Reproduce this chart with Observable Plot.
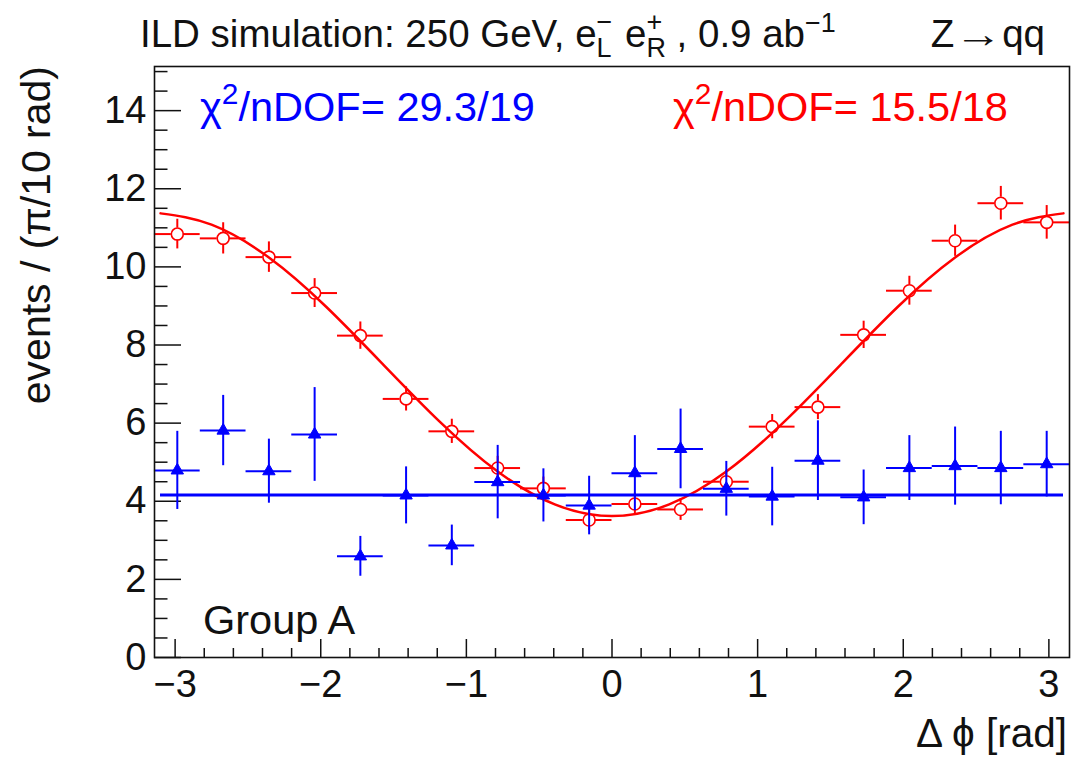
<!DOCTYPE html>
<html>
<head>
<meta charset="utf-8">
<script src="https://cdn.jsdelivr.net/npm/d3@7"></script>
<script src="https://cdn.jsdelivr.net/npm/@observablehq/plot@0.6"></script>
<style>
  body { margin: 0; background: #fff; }
  svg text { white-space: pre; }
</style>
</head>
<body>
<div id="chart"></div>
<script>
// ---------------- data ----------------
const binCenters = [-2.985, -2.670, -2.356, -2.042, -1.728, -1.414, -1.100, -0.785, -0.471, -0.157,
                     0.157,  0.471,  0.785,  1.100,  1.414,  1.728,  2.042,  2.356,  2.670,  2.985];
const binHalfWidth = 0.157;

// red open circles
const redValues = [10.84, 10.73, 10.25, 9.33, 8.24, 6.62, 5.79, 4.85, 4.33, 3.52,
                   3.93, 3.79, 4.50, 5.91, 6.41, 8.26, 9.39, 10.67, 11.63, 11.14];
const redErrors = [0.38, 0.40, 0.39, 0.37, 0.35, 0.31, 0.31, 0.30, 0.29, 0.27,
                   0.28, 0.28, 0.29, 0.31, 0.32, 0.35, 0.37, 0.40, 0.43, 0.43];

// blue filled triangles
const blueValues = [4.79, 5.81, 4.77, 5.71, 2.59, 4.15, 2.87, 4.49, 4.15, 3.89,
                    4.72, 5.34, 4.32, 4.12, 5.04, 4.10, 4.85, 4.90, 4.85, 4.95];
const blueErrors = [1.00, 0.90, 0.82, 1.20, 0.51, 0.73, 0.52, 0.94, 0.68, 0.75,
                    0.96, 1.02, 0.70, 0.75, 1.02, 0.70, 0.83, 1.00, 0.94, 0.84];

// fitted curves
const redFitX = [-3.10, -2.75, -2.356, -1.963, -1.571, -1.178, -0.785, -0.393, 0,
                  0.393, 0.785, 1.178, 1.571, 1.963, 2.356, 2.75, 3.10];
const redFitY = [11.37, 11.08, 10.24, 8.98, 7.50, 6.02, 4.76, 3.92, 3.62,
                 3.92, 4.76, 6.02, 7.50, 8.98, 10.24, 11.08, 11.37];
const blueFitLevel = [4.16];

// axes
const xMajorTicks = [-3, -2, -1, 0, 1, 2, 3];
const xMinorTicks = [-2.8, -2.6, -2.4, -2.2, -1.8, -1.6, -1.4, -1.2, -0.8, -0.6, -0.4, -0.2,
                     0.2, 0.4, 0.6, 0.8, 1.2, 1.4, 1.6, 1.8, 2.2, 2.4, 2.6, 2.8];
const yMajorTicks = [0, 2, 4, 6, 8, 10, 12, 14];
const yMinorTicks = [0.5, 1, 1.5, 2.5, 3, 3.5, 4.5, 5, 5.5, 6.5, 7, 7.5, 8.5, 9, 9.5,
                     10.5, 11, 11.5, 12.5, 13, 13.5, 14.5, 15];

const xLabel = "Δ ϕ [rad]";
const yLabel = "events / (π/10 rad)";
const blueChi2 = ["χ", "2", "/nDOF= 29.3/19"];
const redChi2 = ["χ", "2", "/nDOF= 15.5/18"];
const groupLabel = "Group A";

// ---------------- layout / style ----------------
const FONT = "'Liberation Sans', Arial, Helvetica, sans-serif";
const RED = "#ff0000", BLUE = "#0000ff", INK = "#111";
const W = 1071, H = 758;
const mL = 154, mR = 2, mT = 66, mB = 101;
const frameW = W - mL - mR, frameH = H - mT - mB;
const R = 6; // open circle radius

const idx = d3.range(binCenters.length);
const redFit = redFitX.map((x, i) => ({x, y: redFitY[i]}));

const plot = Plot.plot({
  width: W, height: H,
  marginLeft: mL, marginRight: mR, marginTop: mT, marginBottom: mB,
  style: {fontFamily: FONT, fontSize: "38px", background: "#fff", color: INK},
  x: {domain: [-Math.PI, Math.PI]},
  y: {domain: [0, 15.13]},
  marks: [
    // tick marks (inside the frame)
    Plot.tickY(yMajorTicks, {y: d => d, insetRight: frameW - 27, stroke: INK, strokeWidth: 1.5}),
    Plot.tickY(yMinorTicks, {y: d => d, insetRight: frameW - 13.5, stroke: INK, strokeWidth: 1.5}),
    Plot.tickX(xMajorTicks, {x: d => d, insetTop: frameH - 18, stroke: INK, strokeWidth: 1.5}),
    Plot.tickX(xMinorTicks, {x: d => d, insetTop: frameH - 9, stroke: INK, strokeWidth: 1.5}),
    Plot.axisX({ticks: xMajorTicks, tickFormat: d3.format("d"), tickSize: 0, tickPadding: 13, fontSize: 38, label: null}),
    Plot.axisY({ticks: yMajorTicks, tickFormat: d3.format("d"), tickSize: 0, tickPadding: 8, fontSize: 38, label: null}),

    // red fit
    Plot.line(redFit, {x: "x", y: "y", curve: "natural", stroke: RED, strokeWidth: 2.5}),
    // red error bars with a gap at the marker
    Plot.ruleX(idx, {x: i => binCenters[i], y1: i => redValues[i] + redErrors[i], y2: i => redValues[i], insetBottom: R, stroke: RED, strokeWidth: 2}),
    Plot.ruleX(idx, {x: i => binCenters[i], y1: i => redValues[i], y2: i => redValues[i] - redErrors[i], insetTop: R, stroke: RED, strokeWidth: 2}),
    Plot.ruleY(idx, {y: i => redValues[i], x1: i => binCenters[i] - binHalfWidth, x2: i => binCenters[i], insetRight: R, stroke: RED, strokeWidth: 2}),
    Plot.ruleY(idx, {y: i => redValues[i], x1: i => binCenters[i], x2: i => binCenters[i] + binHalfWidth, insetLeft: R, stroke: RED, strokeWidth: 2}),
    Plot.dot(idx, {x: i => binCenters[i], y: i => redValues[i], r: R, stroke: RED, strokeWidth: 1.6, fill: "none"}),

    // blue error bars + triangles
    Plot.ruleX(idx, {x: i => binCenters[i], y1: i => blueValues[i] - blueErrors[i], y2: i => blueValues[i] + blueErrors[i], stroke: BLUE, strokeWidth: 2}),
    Plot.ruleY(idx, {y: i => blueValues[i], x1: i => binCenters[i] - binHalfWidth, x2: i => binCenters[i] + binHalfWidth, stroke: BLUE, strokeWidth: 2}),
    Plot.dot(idx, {x: i => binCenters[i], y: i => blueValues[i], symbol: "triangle", r: 4.6, fill: BLUE, stroke: BLUE, strokeWidth: 1}),

    // blue fit (constant)
    Plot.ruleY(blueFitLevel, {y: d => d, insetLeft: 6, insetRight: 6, stroke: BLUE, strokeWidth: 3.2}),

    Plot.frame({stroke: INK, strokeWidth: 1.6})
  ]
});

document.getElementById("chart").append(plot);

// ---------------- text annotations ----------------
const svg = d3.select(plot);

function rich(x0, yBase, parts, size, fill, anchor = "start") {
  const g = svg.append("g").attr("fill", fill).attr("font-family", FONT).attr("text-anchor", "start");
  let x = 0;
  for (const p of parts) {
    if (p.t !== undefined) {
      const t = g.append("text").attr("text-anchor", "start").attr("x", x).attr("y", yBase).attr("font-size", size).text(p.t);
      if (p.len) { t.attr("textLength", p.len).attr("lengthAdjust", "spacingAndGlyphs"); x += p.len; }
      else x += t.node().getComputedTextLength();
    } else {
      let w = 0;
      const s = size * (p.scale || 0.7);
      if (p.sup !== undefined) {
        const t = g.append("text").attr("text-anchor", "start").attr("x", x).attr("y", yBase - size * (p.up || 0.42)).attr("font-size", s).text(p.sup);
        w = Math.max(w, t.node().getComputedTextLength());
      }
      if (p.sub !== undefined) {
        const t = g.append("text").attr("text-anchor", "start").attr("x", x).attr("y", yBase + size * 0.26).attr("font-size", s).text(p.sub);
        w = Math.max(w, t.node().getComputedTextLength());
      }
      x += w + (p.after || 0);
    }
  }
  const shift = anchor === "end" ? x0 - x : x0;
  g.attr("transform", `translate(${shift},0)`);
  return x;
}

// title
rich(140, 47, [
  {t: "ILD simulation: 250 GeV, e"},
  {sup: "−", sub: "L", after: 2},
  {t: " e"},
  {sup: "+", sub: "R"},
  {t: " , 0.9 ab"},
  {sup: "−1", up: 0.38}
], 38.5, INK);

rich(1045, 47, [{t: "Z"}, {t: "→", len: 48}, {t: "qq"}], 38.5, INK, "end");

// chi2 labels
rich(200, 121, [{t: blueChi2[0]}, {sup: blueChi2[1], up: 0.40, scale: 0.72}, {t: blueChi2[2]}], 41.5, BLUE);
rich(673, 121, [{t: redChi2[0]}, {sup: redChi2[1], up: 0.40, scale: 0.72}, {t: redChi2[2]}], 41.5, RED);

// group label
svg.append("text").attr("x", 203).attr("y", 634).attr("text-anchor", "start").attr("font-family", FONT)
  .attr("font-size", 41.5).attr("fill", INK).text(groupLabel);

// axis titles
svg.append("text").attr("x", 1067).attr("y", 747).attr("text-anchor", "end")
  .attr("font-family", FONT).attr("font-size", 40.5).attr("fill", INK).text(xLabel);
svg.append("text").attr("transform", "translate(50,66) rotate(-90)").attr("text-anchor", "end")
  .attr("font-family", FONT).attr("font-size", 41).attr("fill", INK).text(yLabel);
</script>
</body>
</html>
